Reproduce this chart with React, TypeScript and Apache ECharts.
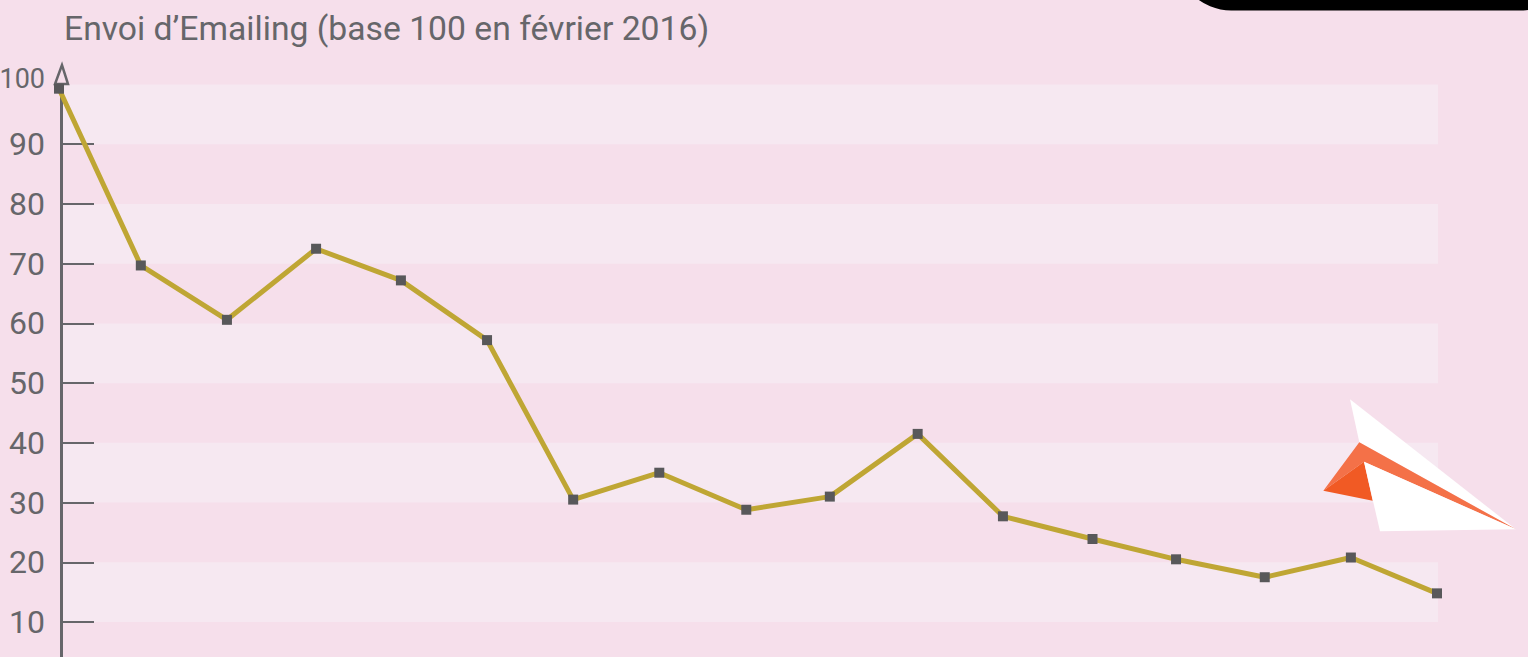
import React, { useEffect, useRef } from "react";
import * as echarts from "echarts";

const titleText = "Envoi d’Emailing (base 100 en février 2016)";
const periods = [0, 0.95, 1.95, 2.985, 3.97, 4.97, 5.97, 6.97, 7.98, 8.95, 9.97, 10.96, 12, 12.97, 14, 15, 16];
const emailing = [99.3, 69.7, 60.6, 72.5, 67.2, 57.2, 30.5, 35.0, 28.8, 31.0, 41.5, 27.7, 23.9, 20.5, 17.5, 20.8, 14.8];
const tickValues = [10, 20, 30, 40, 50, 60, 70, 80, 90];
const labelValues = [10, 20, 30, 40, 50, 60, 70, 80, 90, 100];

const FONT = "Roboto, sans-serif";
const GREY = "#66666a";

export default function App() {
  const ref = useRef<HTMLDivElement>(null);
  useEffect(() => {
    document.body.style.margin = "0";
    document.body.style.overflow = "hidden";
    const chart = echarts.init(ref.current!, null, { renderer: "svg" });
    const gridTop = 84.5;
    const gridBottom = -24.75;
    chart.setOption({
      animation: false,
      backgroundColor: "#f6dfeb",
      title: {
        text: titleText,
        left: 64,
        top: 11,
        padding: 0,
        textStyle: { fontFamily: FONT, fontSize: 33.7, fontWeight: 400, color: GREY },
      },
      grid: [
        { left: 61, width: 1377, top: gridTop, bottom: gridBottom, outerBoundsMode: "none", containLabel: false },
        { left: 59, width: 1378, top: gridTop, bottom: gridBottom, outerBoundsMode: "none", containLabel: false },
      ],
      xAxis: [
        { type: "value", gridIndex: 0, min: 0, max: 16, show: false, splitLine: { show: false } },
        { type: "value", gridIndex: 1, min: 0, max: 16, show: false, splitLine: { show: false } },
      ],
      yAxis: [
        {
          type: "value",
          gridIndex: 0,
          min: 0,
          max: 100,
          interval: 10,
          axisLine: { show: false },
          axisTick: { show: false },
          axisLabel: { show: false },
          splitLine: { show: false },
          splitArea: { show: true, areaStyle: { color: ["rgba(0,0,0,0)", "#f6e8f1"] } },
        },
        {
          type: "value",
          gridIndex: 0,
          position: "left",
          min: 0,
          max: 100,
          interval: 10,
          axisLine: { show: true, onZero: false, lineStyle: { color: GREY, width: 3 } },
          axisTick: { show: true, inside: true, length: 33, customValues: tickValues, lineStyle: { color: GREY, width: 2 } },
          axisLabel: {
            show: true,
            customValues: labelValues,
            margin: 16,
            fontFamily: FONT,
            fontSize: 32,
            fontWeight: 400,
            color: GREY,
            formatter: (v: number) => (v === 100 ? `{top|${v}}` : `${v}`),
            rich: { top: { fontFamily: FONT, fontSize: 27, fontWeight: 400, color: GREY, padding: [0, 0, 12, 0] } },
          },
          splitLine: { show: false },
          splitArea: { show: false },
        },
        { type: "value", gridIndex: 1, min: 0, max: 100, interval: 10, show: false, splitLine: { show: false } },
      ],
      series: [
        {
          type: "line",
          xAxisIndex: 1,
          yAxisIndex: 2,
          data: periods.map((p, i) => [p, emailing[i]]),
          symbol: "rect",
          symbolSize: 10,
          clip: false,
          lineStyle: { color: "#bfa634", width: 5 },
          itemStyle: { color: "#58585a" },
        },
      ],
      graphic: [
        { type: "polygon", shape: { points: [[62, 65], [55, 84], [68, 84]] }, style: { fill: "#f6dfeb", stroke: GREY, lineWidth: 2.5 }, z: 1 },
        { type: "rect", shape: { x: 1176, y: -100, width: 400, height: 110.5, r: 67 }, style: { fill: "#000" }, z: 10 },
        { type: "polygon", shape: { points: [[1350, 399.3], [1359.3, 442.3], [1516, 529.3]] }, style: { fill: "#ffffff" }, z: 10 },
        { type: "polygon", shape: { points: [[1359.3, 442.3], [1323.3, 490.7], [1364, 461.7], [1516, 529.3]] }, style: { fill: "#f47148" }, z: 10 },
        { type: "polygon", shape: { points: [[1323.3, 490.7], [1364, 461.7], [1372.7, 500.7]] }, style: { fill: "#f15a24" }, z: 10 },
        { type: "polygon", shape: { points: [[1364, 461.7], [1380, 531.3], [1516, 529.3]] }, style: { fill: "#ffffff" }, z: 10 },
      ],
    });
    return () => chart.dispose();
  }, []);
  return <div ref={ref} style={{ width: 1528, height: 657 }} />;
}
